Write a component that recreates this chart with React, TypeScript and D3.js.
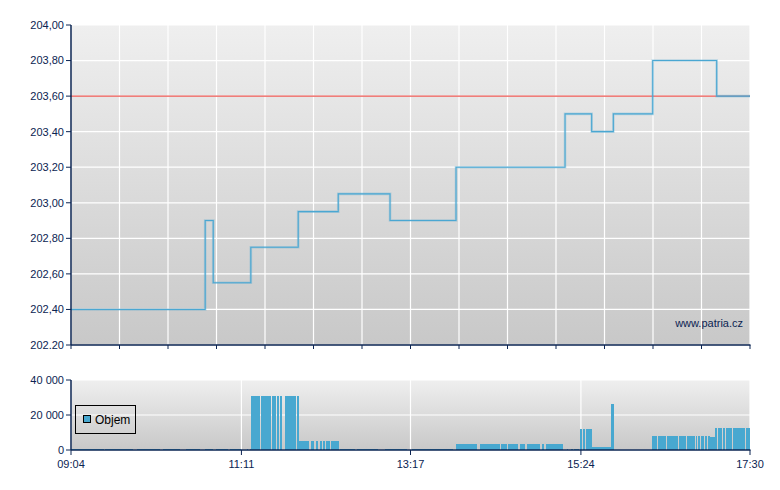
import React from "react";
import * as d3 from "d3";

// ---- Data ----
const priceTimes = ["09:04:00", "10:44:00", "10:50:00", "11:18:00", "11:53:20", "12:23:10", "13:01:45", "13:50:55", "15:12:10", "15:32:00", "15:48:10", "16:17:30", "17:05:10", "17:30:00"];
const priceValues = [202.4, 202.9, 202.55, 202.75, 202.95, 203.05, 202.9, 203.2, 203.5, 203.4, 203.5, 203.8, 203.6, 203.6];
const referencePrice = 203.6;

const priceTicks = [202.2, 202.4, 202.6, 202.8, 203.0, 203.2, 203.4, 203.6, 203.8, 204.0];
const priceTickLabels = ["202.20", "202,40", "202,60", "202,80", "203,00", "203,20", "203,40", "203,60", "203,80", "204,00"];
const volumeTicks = [0, 20000, 40000];
const volumeTickLabels = ["0", "20 000", "40 000"];
const timeTickLabels = ["09:04", "11:11", "13:17", "15:24", "17:30"];

const volStart = [
  "09:04:00", "09:29:20", "09:53:11", "10:12:34", "10:29:42", "10:43:52", "10:52:04", "11:02:29", "11:15:10", "11:17:20",
  "11:18:08", "11:19:38", "11:22:14", "11:25:35", "11:33:47", "11:37:31", "11:39:45", "11:43:29", "11:46:41", "11:49:40", "11:52:25",
  "11:53:55", "12:02:51", "12:06:35", "12:09:34", "12:11:47", "12:14:02", "12:17:46",
  "12:24:28", "12:37:00", "12:57:59", "13:18:07",
  "13:50:55", "14:08:47", "14:24:26", "14:29:40", "14:38:36", "14:43:49", "14:55:00", "14:57:58",
  "15:13:20", "15:16:36", "15:18:50",
  "15:23:19", "15:25:32", "15:27:46",
  "15:32:14", "15:46:25",
  "16:17:00", "16:21:29", "16:28:11", "16:36:45", "16:43:03", "16:49:45", "16:51:14", "16:53:29", "16:56:27", "16:58:41",
  "17:00:10",
  "17:03:43", "17:05:50", "17:09:40", "17:12:07", "17:17:19", "17:27:00",
];
const volEnd = [
  "09:28:35", "09:50:12", "10:10:19", "10:25:14", "10:40:08", "10:49:49", "11:01:00", "11:10:41", "11:15:54", "11:17:50",
  "11:19:16", "11:21:52", "11:24:50", "11:33:02", "11:36:46", "11:39:00", "11:41:14", "11:46:14", "11:49:13", "11:51:54", "11:53:55",
  "12:01:22", "12:05:05", "12:07:42", "12:11:16", "12:13:17", "12:17:01", "12:23:43",
  "12:36:00", "12:52:47", "13:14:23", "13:48:40",
  "14:06:34", "14:23:41", "14:28:55", "14:37:07", "14:42:20", "14:53:30", "14:56:29", "15:10:38",
  "15:14:00", "15:18:06", "15:22:34",
  "15:24:48", "15:27:01", "15:32:14",
  "15:46:25", "15:48:39",
  "16:20:44", "16:27:26", "16:36:23", "16:42:18", "16:49:00", "16:50:52", "16:52:58", "16:55:43", "16:57:56", "17:00:10",
  "17:03:43",
  "17:05:36", "17:09:08", "17:11:22", "17:16:34", "17:26:15", "17:30:00",
];
const volValue = [
  600, 600, 600, 600, 600, 600, 600, 600, 600, 600,
  31000, 31000, 31000, 31000, 31000, 31000, 31000, 31000, 31000, 31000, 31000,
  5300, 5300, 5300, 5300, 5300, 5300, 5300,
  600, 600, 600, 600,
  3400, 3400, 3400, 3400, 3400, 3400, 3400, 3400,
  600, 600, 600,
  12000, 12000, 12000,
  1700, 26300,
  8000, 8000, 8000, 8000, 8000, 8000, 8000, 8000, 8000, 8000,
  7200,
  12500, 12500, 12500, 12500, 12500, 12500,
];

// ---- Layout ----
const W = 780, H = 490;
const left = 71, right = 750;
const mainTop = 25, mainBottom = 345;
const volTop = 380, volBottom = 450;
const navy = "#0b2452";
const lineColor = "#4aa7d2";
const barColor = "#48a8d0";
const font = "'Liberation Sans', Arial, sans-serif";

const parse = d3.timeParse("%H:%M:%S");
const parseHM = d3.timeParse("%H:%M");

export default function App() {
  const t0 = parse("09:04:00")!;
  const t1 = parse("17:30:00")!;
  const x = d3.scaleTime().domain([t0, t1]).range([left, right]);
  const yP = d3.scaleLinear().domain([202.2, 204.0]).range([mainBottom, mainTop]);
  const yV = d3.scaleLinear().domain([0, 40000]).range([volBottom, volTop]);

  const gridTimes = d3.range(15).map((i) => new Date(+t0 + (i * (+t1 - +t0)) / 14));

  const pts = priceTimes.map((t, i) => ({ t: parse(t)!, v: priceValues[i] }));
  const line = d3
    .line<{ t: Date; v: number }>()
    .x((d) => x(d.t))
    .y((d) => yP(d.v))
    .curve(d3.curveStepAfter);

  const timeTickDates = timeTickLabels.map((s) => parseHM(s)!);

  return (
    <div style={{ position: "absolute", left: 0, top: 0 }}>
      <svg width={W} height={H} style={{ display: "block", background: "#fff" }} fontFamily={font}>
        <defs>
          <linearGradient id="bgMain" x1="0" y1="0" x2="0" y2="1">
            <stop offset="0" stopColor="#efefef" />
            <stop offset="1" stopColor="#c8c8c8" />
          </linearGradient>
          <linearGradient id="bgVol" x1="0" y1="0" x2="0" y2="1">
            <stop offset="0" stopColor="#efefef" />
            <stop offset="1" stopColor="#c8c8c8" />
          </linearGradient>
          <clipPath id="clipMain">
            <rect x={left} y={mainTop} width={right - left} height={mainBottom - mainTop} />
          </clipPath>
        </defs>

        {/* Main price chart */}
        <rect x={left} y={mainTop} width={right - left} height={mainBottom - mainTop} fill="url(#bgMain)" />
        {priceTicks.map((v, i) => (
          <line key={"hg" + i} x1={left} x2={right} y1={yP(v)} y2={yP(v)} stroke="#fff" strokeWidth={1.2} />
        ))}
        {gridTimes.map((t, i) => (
          <line key={"vg" + i} x1={x(t)} x2={x(t)} y1={mainTop} y2={mainBottom} stroke="#fff" strokeWidth={1.2} />
        ))}
        <line x1={left} x2={right} y1={yP(referencePrice)} y2={yP(referencePrice)} stroke="#e8302a" strokeWidth={1} />
        <g clipPath="url(#clipMain)">
          <path d={line(pts) || ""} fill="none" stroke={lineColor} strokeOpacity={0.3} strokeWidth={2.6} />
          <path d={line(pts) || ""} fill="none" stroke={lineColor} strokeWidth={1.1} />
        </g>
        <text x={743} y={327} textAnchor="end" fontSize={11} fill={navy}>
          www.patria.cz
        </text>
        {/* main axes */}
        <line x1={left} x2={left} y1={mainTop} y2={mainBottom} stroke={navy} strokeWidth={1.5} />
        <line x1={left} x2={right + 0.5} y1={mainBottom} y2={mainBottom} stroke={navy} strokeWidth={1.5} />
        {priceTicks.map((v, i) => (
          <g key={"pt" + i}>
            <line x1={left - 5} x2={left} y1={yP(v)} y2={yP(v)} stroke={navy} strokeWidth={1} />
            <text x={64} y={yP(v)} dy="0.35em" textAnchor="end" fontSize={11} fill={navy}>
              {priceTickLabels[i]}
            </text>
          </g>
        ))}
        {gridTimes.map((t, i) => (
          <line key={"mt" + i} x1={x(t)} x2={x(t)} y1={mainBottom} y2={mainBottom + 4} stroke={navy} strokeWidth={1} />
        ))}

        {/* Volume chart */}
        <rect x={left} y={volTop} width={right - left} height={volBottom - volTop} fill="url(#bgVol)" />
        {volumeTicks.map((v, i) => (
          <line key={"vhg" + i} x1={left} x2={right} y1={yV(v)} y2={yV(v)} stroke="#fff" strokeWidth={1.2} />
        ))}
        {timeTickDates.map((t, i) => (
          <line key={"vvg" + i} x1={x(t)} x2={x(t)} y1={volTop} y2={volBottom} stroke="#fff" strokeWidth={1.2} />
        ))}
        {volStart.map((s, i) => {
          const xs = x(parse(s)!);
          const xe = x(parse(volEnd[i])!);
          const yv = yV(volValue[i]);
          return (
            <rect
              key={"vb" + i}
              x={xs}
              y={yv}
              width={Math.max(0.8, xe - xs)}
              height={volBottom - yv}
              fill={barColor}
              shapeRendering="crispEdges"
            />
          );
        })}
        {/* legend */}
        <rect x={75.5} y={405.5} width={60} height={28} fill="none" stroke="#000" strokeWidth={1} />
        <rect x={83.5} y={415.5} width={7} height={7} fill={barColor} stroke="#000" strokeWidth={1} />
        <text x={95} y={419.5} dy="0.35em" fontSize={12} fill="#000">
          Objem
        </text>
        {/* volume axes */}
        <line x1={left} x2={left} y1={volTop} y2={volBottom} stroke={navy} strokeWidth={1.5} />
        <line x1={left} x2={right + 0.5} y1={volBottom} y2={volBottom} stroke={navy} strokeWidth={1.5} />
        {volumeTicks.map((v, i) => (
          <g key={"vt" + i}>
            <line x1={left - 5} x2={left} y1={yV(v)} y2={yV(v)} stroke={navy} strokeWidth={1} />
            <text x={64} y={yV(v)} dy="0.35em" textAnchor="end" fontSize={11} fill={navy}>
              {volumeTickLabels[i]}
            </text>
          </g>
        ))}
        {timeTickDates.map((t, i) => (
          <g key={"tt" + i}>
            <line x1={x(t)} x2={x(t)} y1={volBottom} y2={volBottom + 5} stroke={navy} strokeWidth={1} />
            <text x={x(t)} y={468} textAnchor="middle" fontSize={11} fill={navy}>
              {timeTickLabels[i]}
            </text>
          </g>
        ))}
      </svg>
    </div>
  );
}
